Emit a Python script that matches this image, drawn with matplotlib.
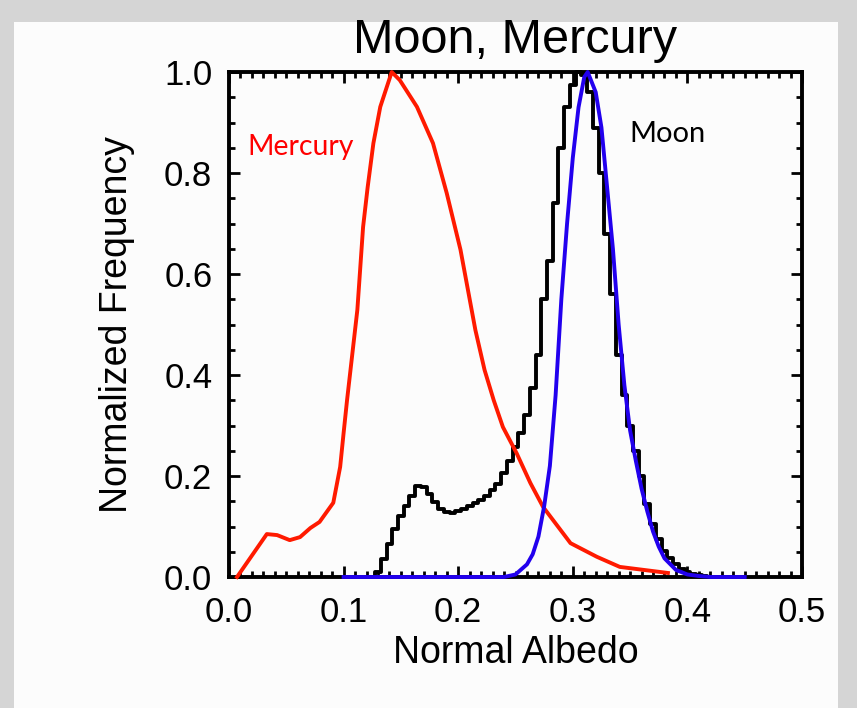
import matplotlib
matplotlib.use("Agg")
import matplotlib.pyplot as plt
from matplotlib.patches import Rectangle
from matplotlib.ticker import MultipleLocator

# ---------------- data ----------------
mercury_x = [0.007, 0.033, 0.042, 0.053, 0.062, 0.071, 0.079, 0.091, 0.097, 0.100,
             0.103, 0.112, 0.117, 0.121, 0.126, 0.132, 0.142, 0.149, 0.164, 0.178,
             0.190, 0.202, 0.215, 0.223, 0.231, 0.239, 0.251, 0.263, 0.274, 0.298,
             0.321, 0.341, 0.383]
mercury_y = [0.0, 0.085, 0.083, 0.073, 0.079, 0.097, 0.109, 0.147, 0.218, 0.285,
             0.350, 0.529, 0.693, 0.772, 0.859, 0.931, 1.0, 0.984, 0.931, 0.859,
             0.760, 0.648, 0.489, 0.410, 0.350, 0.297, 0.245, 0.186, 0.139, 0.067,
             0.040, 0.020, 0.008]

moon_bins = [0.100, 0.105, 0.110, 0.115, 0.120, 0.125, 0.130, 0.135, 0.140, 0.145,
             0.150, 0.155, 0.160, 0.165, 0.170, 0.175, 0.180, 0.185, 0.190, 0.195,
             0.200, 0.205, 0.210, 0.215, 0.220, 0.225, 0.230, 0.235, 0.240, 0.245,
             0.250, 0.255, 0.260, 0.265, 0.270, 0.275, 0.280, 0.285, 0.290, 0.295,
             0.300, 0.305, 0.310, 0.315, 0.320, 0.325, 0.330, 0.335, 0.340, 0.345,
             0.350, 0.355, 0.360, 0.365, 0.370, 0.375, 0.380, 0.385, 0.390, 0.395,
             0.400, 0.405, 0.410, 0.415, 0.420, 0.425, 0.430, 0.435, 0.440, 0.445,
             0.450]
moon_freq = [0.0, 0.0, 0.0, 0.0, 0.0, 0.0, 0.010, 0.035, 0.065, 0.095,
             0.120, 0.140, 0.160, 0.180, 0.178, 0.165, 0.148, 0.135, 0.128, 0.127,
             0.130, 0.135, 0.140, 0.147, 0.153, 0.160, 0.172, 0.185, 0.205, 0.230,
             0.257, 0.285, 0.320, 0.375, 0.440, 0.550, 0.625, 0.740, 0.850, 0.930,
             0.975, 1.000, 0.995, 0.960, 0.890, 0.800, 0.680, 0.560, 0.440, 0.360,
             0.300, 0.250, 0.200, 0.145, 0.105, 0.075, 0.052, 0.037, 0.025, 0.016,
             0.010, 0.006, 0.003, 0.001, 0.0, 0.0, 0.0, 0.0, 0.0, 0.0,
             0.0]

fit_x = [0.100, 0.200, 0.240, 0.250, 0.260, 0.265, 0.270, 0.275, 0.280, 0.285,
         0.290, 0.295, 0.300, 0.305, 0.310, 0.313, 0.320, 0.325, 0.330, 0.335,
         0.340, 0.345, 0.350, 0.355, 0.360, 0.365, 0.370, 0.375, 0.380, 0.390,
         0.400, 0.410, 0.420, 0.450]
fit_y = [0.0, 0.0, 0.0, 0.005, 0.025, 0.045, 0.080, 0.140, 0.220, 0.360,
         0.550, 0.700, 0.830, 0.930, 0.990, 1.0, 0.960, 0.890, 0.770, 0.650,
         0.500, 0.380, 0.290, 0.230, 0.175, 0.130, 0.090, 0.060, 0.037, 0.014,
         0.005, 0.002, 0.0, 0.0]

x_ticks = [0.0, 0.1, 0.2, 0.3, 0.4, 0.5]
y_ticks = [0.0, 0.2, 0.4, 0.6, 0.8, 1.0]

# ---------------- figure ----------------
W, H = 857, 708
fig = plt.figure(figsize=(W / 100, H / 100), dpi=100, facecolor="#d5d5d5")
fig.patches.append(Rectangle((14 / W, 0), (838 - 14) / W, 1 - 22 / H,
                             transform=fig.transFigure, facecolor="#fcfcfc",
                             edgecolor="none", zorder=-10))

ax = fig.add_axes([229 / W, 1 - 577 / H, (802 - 229) / W, (577 - 72) / H])
ax.set_zorder(5)
ax.set_facecolor("none")

sans = ["Liberation Sans", "DejaVu Sans"]

ax.plot(mercury_x, mercury_y, color="#ff1a00", lw=2.8, clip_on=False, zorder=3)
ax.step(moon_bins, moon_freq, where="mid", color="black", lw=2.8, clip_on=False, zorder=2)
ax.plot(fit_x, fit_y, color="#2200ee", lw=2.8, clip_on=False, zorder=4)

ax.set_xlim(0, 0.5)
ax.set_ylim(0, 1.0)
ax.set_xticks(x_ticks)
ax.set_yticks(y_ticks)
ax.set_xticklabels([f"{v:.1f}" for v in x_ticks], fontsize=25, family=sans)
ax.set_yticklabels([f"{v:.1f}" for v in y_ticks], fontsize=25, family=sans)
ax.xaxis.set_minor_locator(MultipleLocator(0.01))
ax.yaxis.set_minor_locator(MultipleLocator(0.05))
ax.tick_params(which="both", direction="in", top=True, right=True, width=2.0, color="black")
ax.tick_params(which="major", length=8)
ax.tick_params(which="minor", length=4)
ax.tick_params(axis="x", which="major", pad=14)
ax.tick_params(axis="y", which="major", pad=12)

for s in ax.spines.values():
    s.set_linewidth(2.8)
    s.set_color("black")

ax.set_xlabel("Normal Albedo", fontsize=27, family=sans, labelpad=4)
ax.set_ylabel("Normalized Frequency", fontsize=27, family=sans, labelpad=21)
ax.set_title("Moon, Mercury", fontsize=35, family=sans, pad=14)

ax.text(0.016, 0.835, "Mercury", color="#ff0000", fontsize=20.5, family=["Lato", "DejaVu Sans"])
ax.text(0.349, 0.862, "Moon", color="black", fontsize=21, family=["Lato", "DejaVu Sans"])

fig.savefig("out.png", dpi=100, facecolor=fig.get_facecolor())
